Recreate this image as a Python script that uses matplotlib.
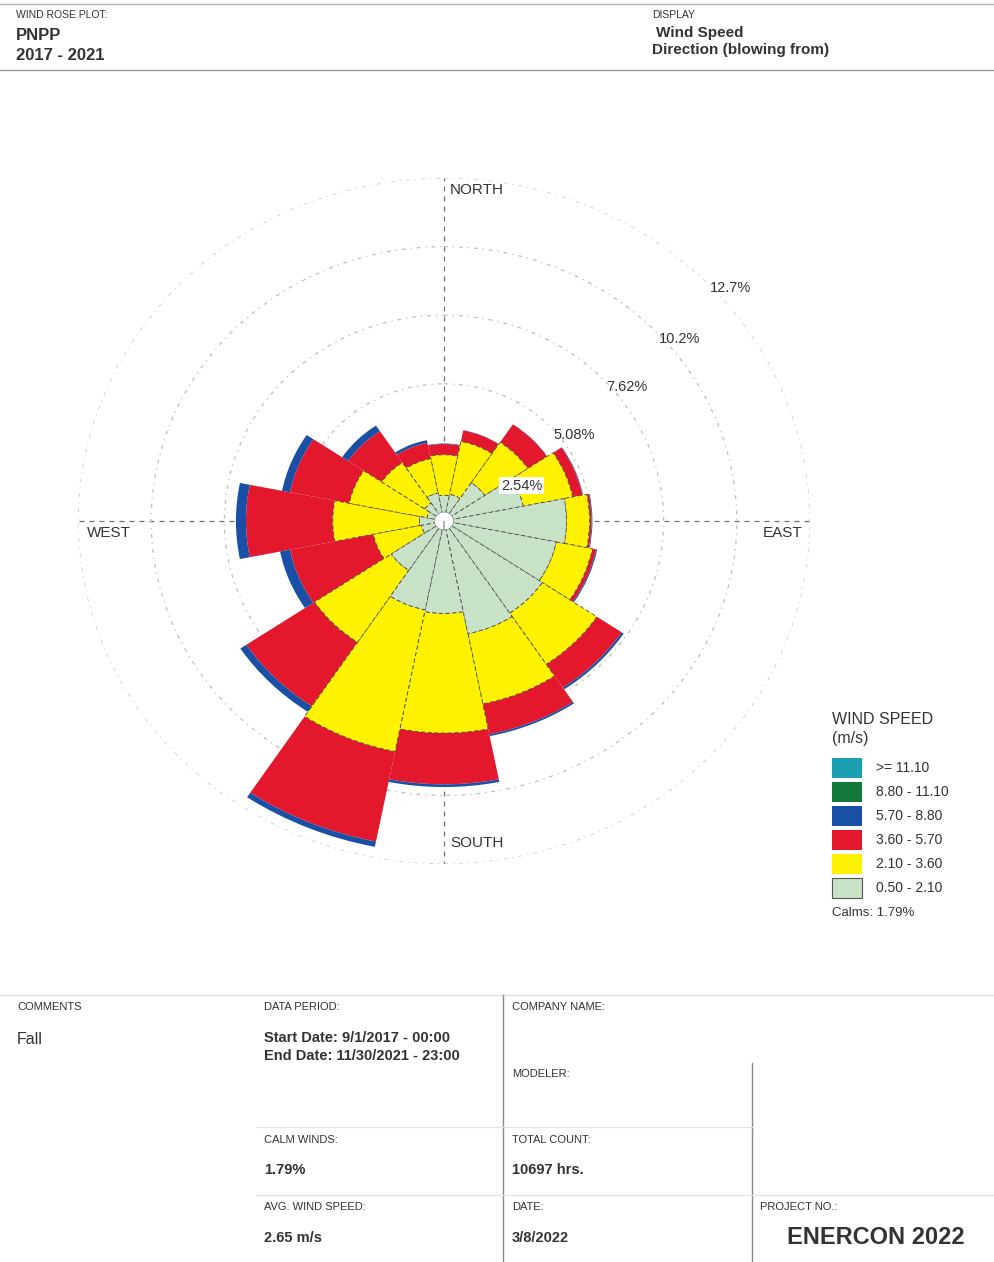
import numpy as np
import matplotlib.pyplot as plt
from matplotlib.patches import Rectangle
from matplotlib.lines import Line2D

plt.rcParams['font.family'] = ['Liberation Sans', 'DejaVu Sans']

# wind rose data (% of hours), directions clockwise from North (blowing from)
directions = ['N', 'NNE', 'NE', 'ENE', 'E', 'ESE', 'SE', 'SSE',
              'S', 'SSW', 'SW', 'WSW', 'W', 'WNW', 'NW', 'NNW']
spd_050_210 = [0.95, 1.00, 1.70, 2.80, 4.25, 3.97, 4.10, 4.25,
               3.42, 3.35, 2.20, 0.80, 0.85, 0.60, 0.80, 1.05]
spd_210_360 = [1.50, 2.00, 1.80, 1.75, 0.80, 1.28, 2.28, 2.65,
               4.43, 5.35, 3.20, 1.70, 3.01, 2.75, 1.80, 1.30]
spd_360_570 = [0.40, 0.42, 0.80, 0.35, 0.07, 0.13, 1.04, 1.15,
               1.90, 3.40, 2.85, 2.95, 3.01, 2.10, 1.40, 0.60]
spd_570_880 = [0.02, 0.01, 0.01, 0.02, 0.03, 0.04, 0.08, 0.07,
               0.10, 0.20, 0.25, 0.35, 0.35, 0.28, 0.25, 0.10]
spd_880_1110 = [0.0] * 16
spd_1110_up = [0.0] * 16
calms = 1.79

speed_labels = ['0.50 - 2.10', '2.10 - 3.60', '3.60 - 5.70',
                '5.70 - 8.80', '8.80 - 11.10', '>= 11.10']
speed_colors = ['#c8e2c8', '#fff200', '#e3182d', '#1a4fa6', '#147a3c', '#1c9fb0']
ring_values = [2.54, 5.08, 7.62, 10.16, 12.7]
ring_labels = ['2.54%', '5.08%', '7.62%', '10.2%', '12.7%']
ring_label_angles = [64, 55, 52, 50.5, 49]

W, H = 994, 1262
fig = plt.figure(figsize=(W / 100, H / 100), dpi=100)
txt = '#333333'


def fx(x):
    return x / W


def fy(y):
    return 1 - y / H


def put(x, y, s, size=8.5, bold=False, **kw):
    fig.text(fx(x), fy(y), s, fontsize=size, color=txt,
             fontweight='bold' if bold else 'normal', va='center', **kw)


# polar axes, slightly stretched horizontally like the original
cx, cy, rx, ry = 444, 521, 366, 343
ax = fig.add_axes([fx(cx - rx), fy(cy + ry), 2 * rx / W, 2 * ry / H], projection='polar')
ax.set_aspect('auto')
ax.set_theta_zero_location('N')
ax.set_theta_direction(-1)
ax.set_ylim(0, 12.7)
ax.spines['polar'].set_visible(False)
ax.set_axisbelow(True)
ax.set_yticks(ring_values)
ax.set_yticklabels([])
ax.yaxis.grid(True, color='#bdbdbd', linestyle=(0, (3, 4, 1, 4)), linewidth=0.9)
ax.set_xticks(np.deg2rad([0, 90, 180, 270]))
ax.set_xticklabels([])
ax.xaxis.grid(True, color='#707070', linestyle=(0, (4, 4)), linewidth=0.9)
ax.patch.set_alpha(0)

theta = np.deg2rad(np.arange(16) * 22.5)
width = np.deg2rad(22.5)
bottom = np.zeros(16)
series = [spd_050_210, spd_210_360, spd_360_570, spd_570_880, spd_880_1110, spd_1110_up]
for i, (vals, col) in enumerate(zip(series, speed_colors)):
    vals = np.array(vals)
    if i < 2:
        ax.bar(theta, vals, width=width, bottom=bottom, color=col,
               edgecolor='#4a4a4a', linewidth=0.6, linestyle=(0, (5, 3)), zorder=3 - i * 0.1)
    else:
        ax.bar(theta, vals, width=width, bottom=bottom, color=col,
               linewidth=0, zorder=2)
    bottom += vals

# calm circle in the middle
ax.bar(0, 0.33, width=2 * np.pi, bottom=0, color='white',
       edgecolor='#777777', linewidth=0.4, zorder=6)

for rv, lab, ang in zip(ring_values, ring_labels, ring_label_angles):
    box = dict(facecolor='white', edgecolor='none', pad=1) if rv == ring_values[0] else None
    ax.text(np.deg2rad(ang), rv + 0.45, lab, fontsize=10.5, color=txt,
            ha='center', va='center', bbox=box, zorder=7, clip_on=False)

# compass labels
put(450, 190, 'NORTH', 11)
put(450, 843, 'SOUTH', 11)
put(87, 533, 'WEST', 11)
put(763, 533, 'EAST', 11)

# header
fig.add_artist(Line2D([0, 1], [fy(4), fy(4)], color='#b0b0b0', lw=1))
fig.add_artist(Line2D([0, 1], [fy(70), fy(70)], color='#9a9a9a', lw=1))
put(16, 15, 'WIND ROSE PLOT:', 7.5)
put(16, 35, 'PNPP', 12, True)
put(16, 55, '2017 - 2021', 12, True)
put(652, 15, 'DISPLAY', 7.5)
put(656, 33, 'Wind Speed', 11, True)
put(652, 50, 'Direction (blowing from)', 11, True)

# legend
put(832, 719, 'WIND SPEED', 11.5)
put(832, 739, '(m/s)', 11.5)
for i in range(6):
    k = 5 - i
    top = 758 + 24 * i
    fig.add_artist(Rectangle((fx(832), fy(top + 20)), 30 / W, 20 / H,
                             facecolor=speed_colors[k],
                             edgecolor='#555555' if k == 0 else 'none', lw=0.8))
    put(876, top + 10, speed_labels[k], 10)
put(832, 913, 'Calms: %.2f%%' % calms, 9.5)

# bottom info table
lc = '#e2e2e2'
fig.add_artist(Line2D([0, 1], [fy(995), fy(995)], color='#e0e0e0', lw=1))
fig.add_artist(Line2D([fx(503), fx(503)], [fy(995), 0], color='#8a8a8a', lw=1))
fig.add_artist(Line2D([fx(752), fx(752)], [fy(1063), 0], color='#8a8a8a', lw=1))
fig.add_artist(Line2D([fx(256), fx(752)], [fy(1127), fy(1127)], color=lc, lw=0.8))
fig.add_artist(Line2D([fx(256), 1], [fy(1195), fy(1195)], color=lc, lw=0.8))

put(17, 1007, 'COMMENTS', 8)
put(17, 1039, 'Fall', 11.5)
put(264, 1007, 'DATA PERIOD:', 8)
put(264, 1038, 'Start Date: 9/1/2017 - 00:00', 10.5, True)
put(264, 1056, 'End Date: 11/30/2021 - 23:00', 10.5, True)
put(512, 1007, 'COMPANY NAME:', 8)
put(512, 1074, 'MODELER:', 8)
put(264, 1140, 'CALM WINDS:', 8)
put(264, 1170, '%.2f%%' % calms, 10.5, True)
put(512, 1140, 'TOTAL COUNT:', 8)
put(512, 1170, '10697 hrs.', 10.5, True)
put(264, 1207, 'AVG. WIND SPEED:', 8)
put(264, 1238, '2.65 m/s', 10.5, True)
put(512, 1207, 'DATE:', 8)
put(512, 1238, '3/8/2022', 10.5, True)
put(760, 1207, 'PROJECT NO.:', 8)
put(787, 1237, 'ENERCON 2022', 17, True)

fig.savefig('out.png', dpi=100)
